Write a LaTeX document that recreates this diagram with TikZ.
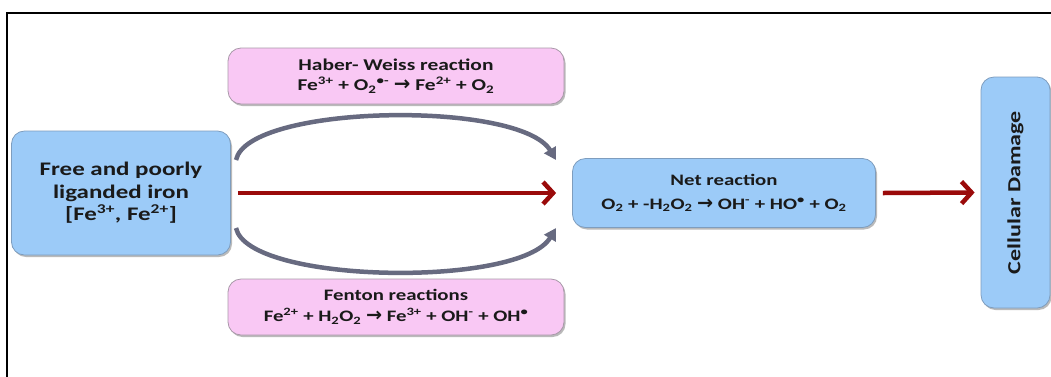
\documentclass[tikz,border=0pt]{standalone}
\usepackage{fontspec}
\setmainfont{Carlito}[FakeStretch=1.3]
\newfontfamily\symfont{DejaVu Sans}
\usetikzlibrary{arrows.meta,shadows}
\definecolor{boxblue}{HTML}{9CCBF8}
\definecolor{boxblueedge}{HTML}{7E9DBE}
\definecolor{boxpink}{HTML}{F9C8F4}
\definecolor{boxpinkedge}{HTML}{A898A8}
\definecolor{darkred}{HTML}{9A0A0A}
\definecolor{curvegray}{HTML}{676A80}
\definecolor{txt}{HTML}{1A1A1A}
\newcommand{\rarr}{{\symfont\bfseries\scalebox{1.2}{→}}}
\newcommand{\sups}[1]{\textsuperscript{#1}}
\newcommand{\subs}[1]{\textsubscript{#1}}
\tikzset{
  card/.style={draw, line width=0.8pt, rounded corners=13pt, align=center,
    font=\bfseries, text=txt, inner sep=0pt,
    drop shadow={shadow xshift=1.5pt, shadow yshift=-2pt, fill=black!45, opacity=0.6}},
  bluecard/.style={card, fill=boxblue, draw=boxblueedge},
  pinkcard/.style={card, fill=boxpink, draw=boxpinkedge},
  redarrow/.style={draw=darkred, line width=4.5pt,
    -{Straight Barb[length=10pt, width=22pt, line width=4.5pt]}},
  grayarrow/.style={draw=curvegray, line width=4.5pt,
    -{Triangle[length=12pt, width=13pt]}}
}
\begin{document}
\begin{tikzpicture}[x=1pt, y=-1pt]
\useasboundingbox (0,0) rectangle (1051,376);
% frame
\draw[line width=2pt] (7,377) -- (7,13) -- (1052,13);

\node[bluecard, minimum width=219pt, minimum height=124pt,
      font=\bfseries\fontsize{19.2}{22.5}\selectfont] (iron) at (121,193)
  {Free and poorly\\liganded iron\\{[}Fe\sups{3+}, Fe\sups{2+}{]}};

\node[pinkcard, minimum width=336pt, minimum height=56pt,
      font=\bfseries\fontsize{16.5}{20}\selectfont] (haber) at (396,76)
  {Haber- Weiss reaction\\ Fe\sups{3+} + O\subs{2}\sups{\textbullet-} \rarr{} Fe\sups{2+} + O\subs{2}};

\node[pinkcard, minimum width=336pt, minimum height=56pt,
      font=\bfseries\fontsize{16}{21}\selectfont] (fenton) at (396,307)
  {Fenton reactions\\Fe\sups{2+} + H\subs{2}O\subs{2} \rarr{} Fe\sups{3+} + OH\sups{-} + OH\sups{\textbullet}};

\node[bluecard, minimum width=303pt, minimum height=69pt,
      font=\bfseries\fontsize{16}{24}\selectfont] (net) at (724,193)
  {Net reaction\\ O\subs{2} + -H\subs{2}O\subs{2} \rarr{} OH\sups{-} + HO\sups{\textbullet} + O\subs{2}};

\node[bluecard, minimum width=69pt, minimum height=231pt] (cell) at (1015.5,192.5) {};
\node[rotate=90, text=txt, font=\bfseries\fontsize{18.5}{20}\selectfont] (celltxt) at (cell.center) {Cellular Damage};

% connectors
\coordinate (a1) at (236,160);
\coordinate (a2) at (556,160);
\coordinate (b1) at (236,228);
\coordinate (b2) at (556,228);
\draw[grayarrow] (a1) .. controls (248,104) and (520,100) .. (a2);
\draw[grayarrow] (b1) .. controls (248,284) and (520,288) .. (b2);

\draw[redarrow] ([xshift=7pt]iron.east) -- ([xshift=-16pt]net.west);
\draw[redarrow] ([xshift=7pt]net.east) -- ([xshift=-6pt]cell.west);
\end{tikzpicture}
\end{document}
